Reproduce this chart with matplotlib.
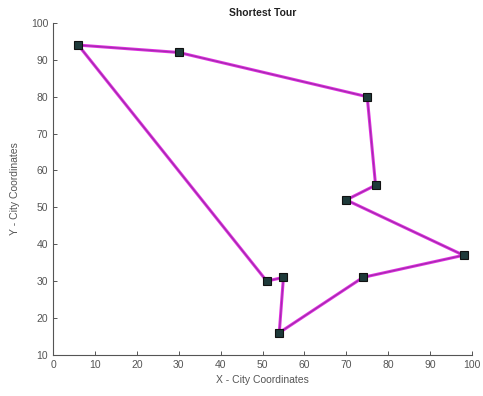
import matplotlib
matplotlib.use('Agg')
from matplotlib import pyplot as plt

plt.rcParams['font.family'] = ['Liberation Sans', 'DejaVu Sans']

# tour order, closed back to the first city
city_x = [6, 30, 75, 77, 70, 98, 74, 54, 55, 51]
city_y = [94, 92, 80, 56, 52, 37, 31, 16, 31, 30]
tour_x = city_x + city_x[:1]
tour_y = city_y + city_y[:1]

fig = plt.figure(figsize=(4.83, 3.96), dpi=100)
ax = fig.add_axes([0.11, 0.104, 0.867, 0.838])

ax.plot(tour_x, tour_y, color='#e030e0', lw=2.2, zorder=2)
ax.plot(tour_x, tour_y, color='#8a2a9a', lw=0.9, alpha=0.7, zorder=3)
ax.plot(city_x, city_y, 's', ms=5.5, mfc='#1e3a3a', mec='#111111', mew=0.8, zorder=4)

ax.set_xlim(0, 100)
ax.set_ylim(10, 100)
ax.set_xticks(range(0, 101, 10))
ax.set_yticks(range(10, 101, 10))

for side in ['top', 'right']:
    ax.spines[side].set_visible(False)
for side in ['left', 'bottom']:
    ax.spines[side].set_color('#555555')
    ax.spines[side].set_linewidth(0.8)
ax.tick_params(direction='in', length=3, width=0.7, colors='#555555',
               labelsize=7.5, labelcolor='#555555')

ax.set_title('Shortest Tour', fontsize=7.5, fontweight='bold', color='#222222', pad=5)
ax.set_xlabel('X - City Coordinates', fontsize=7.5, color='#555555', labelpad=4)
ax.set_ylabel('Y - City Coordinates', fontsize=7.5, color='#555555', labelpad=8)

fig.savefig('out.png', dpi=100)
